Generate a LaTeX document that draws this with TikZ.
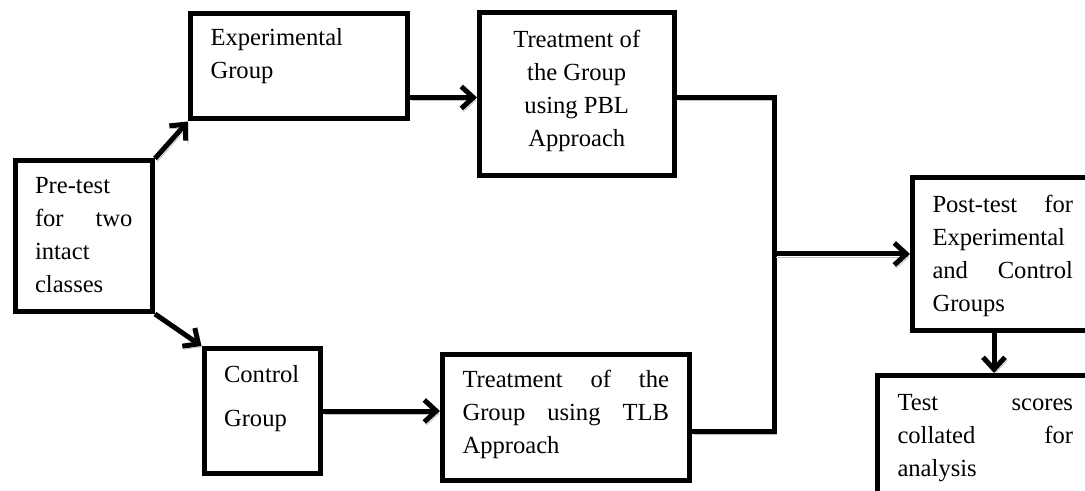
\documentclass[tikz,border=0pt]{standalone}
\usepackage{fontspec}
\setmainfont{Liberation Serif}
\usetikzlibrary{arrows.meta, calc}

\newcommand{\stagetext}[4][5pt]{\parbox[c][#3][t]{#2}{\fontsize{12.3}{16.5}\selectfont\vspace*{#1}\strut #4}}

\tikzset{
    stage/.style={draw, line width=2.5pt, inner xsep=10pt, inner ysep=0pt, anchor=north west},
    link/.style={line width=2.5pt, line join=miter, preaction={draw=gray!50, transform canvas={shift={(1.1pt,-1.5pt)}}}},
    flow/.style={link, -{Straight Barb[length=6pt, width=11pt]}}
}

\begin{document}
\begin{tikzpicture}[x=0.5pt, y=-0.5pt]
                \useasboundingbox (0,0) rectangle (1085,491);
                \clip (0,0) rectangle (1085,491);
                % boxes
                \node[stage] (pre) at (12.5,158.5) {\stagetext[4.5pt]{48.75pt}{75.25pt}{Pre-test\\ for\hfill two\\ intact\\ classes}};
                \node[stage] (exp) at (188,11) {\stagetext[4.25pt]{88.5pt}{52.75pt}{Experimental\\ Group}};
                \node[stage] (ctrl) at (201.5,346) {\stagetext[5.25pt]{38.25pt}{62.5pt}{Control\\[5.5pt] Group}};
                \node[stage] (pbl) at (477,10.5) {\stagetext[5.5pt]{77.25pt}{81.25pt}{\centering Treatment of\\ the Group\\ using PBL\\ Approach}};
                \node[stage] (tlb) at (440,351.5) {\stagetext[5pt]{103.25pt}{63.25pt}{Treatment\hfill of\hfill the\\ Group\hfill using\hfill TLB\\ Approach}};
                \node[stage] (post) at (910,175) {\stagetext[5.75pt]{70.25pt}{76.5pt}{Post-test\hfill for\\ Experimental\\ and\hfill Control\\ Groups}};
                \node[stage] (test) at (875,373) {\stagetext[5.75pt]{87.75pt}{70pt}{Test\hfill scores\\ collated\hfill for\\ analysis}};
                % joins
                \coordinate (jtop) at (774,97.5);
                \coordinate (jbot) at (774,431.5);
                \coordinate (jdown) at (994,0);
                % connectors
                \draw[flow] (pre.north east) -- (exp.south west);
                \draw[flow] (pre.south east) -- (ctrl.north west);
                \draw[flow] (jtop -| exp.east) -- (jtop -| pbl.west);
                \draw[flow] (ctrl.east) -- (ctrl.east -| tlb.west);
                \draw[link] (jtop -| pbl.east) -- (jtop) -- (jbot) -- (jbot -| tlb.east);
                \draw[flow] (post.west -| jtop) -- (post.west);
                \draw[flow] (post.south -| jdown) -- (test.north -| jdown);
            \end{tikzpicture}
\end{document}
